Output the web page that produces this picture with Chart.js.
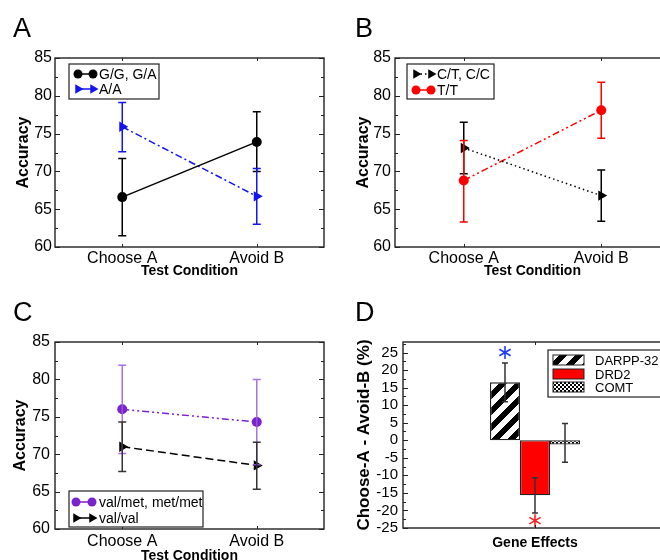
<!DOCTYPE html>
<html>
<head>
<meta charset="utf-8">
<script src="https://cdn.jsdelivr.net/npm/chart.js"></script>
<style>
html, body { margin: 0; padding: 0; background: #fff; }
#fig { position: relative; width: 660px; height: 560px; overflow: hidden; }
#fig canvas { position: absolute; }
.lab { position: absolute; font: 27px 'Liberation Sans', Arial, sans-serif; line-height: 1; color: #000; }
</style>
</head>
<body>
<div id="fig">
  <canvas id="chartA" width="330" height="280" style="left:0;top:0"></canvas>
  <canvas id="chartB" width="346" height="280" style="left:330px;top:0"></canvas>
  <canvas id="chartC" width="330" height="300" style="left:0;top:280px"></canvas>
  <canvas id="chartD" width="340" height="280" style="left:330px;top:280px"></canvas>
  <div class="lab" style="left:13px;top:15px">A</div>
  <div class="lab" style="left:355px;top:15px">B</div>
  <div class="lab" style="left:13px;top:299px">C</div>
  <div class="lab" style="left:355px;top:299px">D</div>
</div>
<script>
// data
const conditions = ['Choose A', 'Avoid B'];

// A: DARPP-32
const ggValues = [66.6, 73.9];
const ggErr = [[61.5, 71.7], [70.0, 77.9]];
const aaValues = [75.9, 66.7];
const aaErr = [[72.6, 79.1], [63.0, 70.4]];

// B: DRD2
const ctValues = [73.1, 66.8];
const ctErr = [[69.7, 76.5], [63.4, 70.2]];
const ttValues = [68.8, 78.1];
const ttErr = [[63.3, 74.1], [74.4, 81.8]];

// C: COMT
const vmValues = [76.0, 74.3];
const vmErr = [[70.1, 81.9], [68.6, 80.0]];
const vvValues = [71.0, 68.5];
const vvErr = [[67.7, 74.3], [65.3, 71.6]];

// D: gene effects (Choose-A minus Avoid-B)
const genes = ['DARPP-32', 'DRD2', 'COMT'];
const geneEffect = [16.5, -15.7, -1.2];
const geneErr = [[11.0, 22.0], [-20.7, -10.7], [-6.3, 4.8]];
const geneStars = [25, -22.9, null];

const FONT = "'Liberation Sans', Arial, Helvetica, sans-serif";

// fill patterns for the bars
function makeTile(size, test) {
  const c = document.createElement('canvas');
  c.width = size; c.height = size;
  const g = c.getContext('2d');
  const img = g.createImageData(size, size);
  for (let j = 0; j < size; j++) {
    for (let i = 0; i < size; i++) {
      const v = test(i, j) ? 0 : 255;
      const k = (j * size + i) * 4;
      img.data[k] = img.data[k + 1] = img.data[k + 2] = v;
      img.data[k + 3] = 255;
    }
  }
  g.putImageData(img, 0, 0);
  return g.createPattern(c, 'repeat');
}
const stripeFill = makeTile(16, (i, j) => ((i + j) % 16) < 8);
const checkFill = makeTile(4, (i, j) => ((Math.floor(i / 2) + Math.floor(j / 2)) % 2) === 0);

function marker(ctx, style, x, y, r, color) {
  ctx.fillStyle = color;
  ctx.beginPath();
  if (style === 'circle') {
    ctx.arc(x, y, r, 0, Math.PI * 2);
  } else {
    ctx.moveTo(x + r, y);
    ctx.lineTo(x - r * 0.5, y - r * 0.87);
    ctx.lineTo(x - r * 0.5, y + r * 0.87);
    ctx.closePath();
  }
  ctx.fill();
}

// error bars + significance stars
const errorBars = {
  id: 'errorBars',
  afterDatasetsDraw(chart, args, o) {
    const ctx = chart.ctx;
    const y = chart.scales.y;
    chart.data.datasets.forEach((ds, i) => {
      if (!ds.err) return;
      const meta = chart.getDatasetMeta(i);
      ctx.save();
      ctx.strokeStyle = ds.errColor || ds.borderColor;
      ctx.lineWidth = o.width;
      ds.err.forEach((e, j) => {
        const px = meta.data[j].x;
        const y1 = y.getPixelForValue(e[0]);
        const y2 = y.getPixelForValue(e[1]);
        const c = o.cap;
        ctx.beginPath();
        ctx.moveTo(px, y1); ctx.lineTo(px, y2);
        ctx.moveTo(px - c, y1); ctx.lineTo(px + c, y1);
        ctx.moveTo(px - c, y2); ctx.lineTo(px + c, y2);
        ctx.stroke();
      });
      if (ds.star != null) {
        const px = meta.data[0].x;
        const py = y.getPixelForValue(ds.star);
        ctx.strokeStyle = ds.starColor;
        ctx.lineWidth = 1.6;
        ctx.beginPath();
        for (const a of [90, 30, -30]) {
          const dx = Math.cos(a * Math.PI / 180) * 6.5;
          const dy = Math.sin(a * Math.PI / 180) * 6.5;
          ctx.moveTo(px - dx, py - dy);
          ctx.lineTo(px + dx, py + dy);
        }
        ctx.stroke();
      }
      ctx.restore();
    });
  }
};

// box frame with inward ticks
const frameTicks = {
  id: 'frameTicks',
  afterDraw(chart, args, o) {
    const ctx = chart.ctx;
    const a = chart.chartArea;
    const y = chart.scales.y, x = chart.scales.x;
    ctx.save();
    ctx.strokeStyle = '#222';
    ctx.lineWidth = 1.4;
    ctx.strokeRect(a.left, a.top, a.right - a.left, a.bottom - a.top);
    ctx.lineWidth = 1;
    ctx.beginPath();
    for (let v = y.min; v <= y.max + 1e-9; v += o.minor) {
      const py = Math.round(y.getPixelForValue(v)) + 0.5;
      const major = Math.abs(v / o.major - Math.round(v / o.major)) < 1e-6;
      const len = major ? 5 : 3;
      ctx.moveTo(a.left, py); ctx.lineTo(a.left + len, py);
      ctx.moveTo(a.right, py); ctx.lineTo(a.right - len, py);
    }
    x.ticks.forEach((t, i) => {
      const px = Math.round(x.getPixelForTick(i)) + 0.5;
      ctx.moveTo(px, a.top); ctx.lineTo(px, a.top + 3);
      ctx.moveTo(px, a.bottom); ctx.lineTo(px, a.bottom - 3);
    });
    ctx.stroke();
    ctx.restore();
  }
};

// framed legend inside the plot
const boxLegend = {
  id: 'boxLegend',
  afterDraw(chart, args, o) {
    if (!o.box) return;
    const ctx = chart.ctx;
    const [bx, by, bw, bh] = o.box;
    ctx.save();
    ctx.fillStyle = '#fff';
    ctx.fillRect(bx, by, bw, bh);
    ctx.strokeStyle = '#222';
    ctx.lineWidth = 1.2;
    ctx.strokeRect(bx, by, bw, bh);
    chart.data.datasets.forEach((ds, i) => {
      const ry = o.rows[i];
      if (o.swatch) {
        ctx.fillStyle = ds.backgroundColor;
        ctx.fillRect(o.m1, ry - 5, o.m2 - o.m1, 10);
        ctx.strokeStyle = '#222';
        ctx.lineWidth = 1;
        ctx.strokeRect(o.m1, ry - 5, o.m2 - o.m1, 10);
      } else {
        ctx.strokeStyle = ds.borderColor;
        ctx.lineWidth = 1.5;
        ctx.setLineDash(ds.legendDash || []);
        ctx.beginPath();
        ctx.moveTo(o.m1, ry); ctx.lineTo(o.m2, ry);
        ctx.stroke();
        ctx.setLineDash([]);
        const r = ds.pointStyle === 'circle' ? 4.5 : 5.5;
        marker(ctx, ds.pointStyle, o.m1, ry, r, ds.borderColor);
        marker(ctx, ds.pointStyle, o.m2, ry, r, ds.borderColor);
      }
      ctx.fillStyle = '#000';
      ctx.font = o.font;
      ctx.textBaseline = 'middle';
      ctx.fillText(ds.label, o.tx, ry + 1);
    });
    ctx.restore();
  }
};

function lineSet(label, data, err, color, dash, style, legendDash, errColor) {
  return {
    label, data, err,
    borderColor: color, backgroundColor: color,
    borderWidth: 1.5, borderDash: dash, legendDash,
    pointStyle: style, pointRotation: style === 'triangle' ? 90 : 0,
    pointRadius: style === 'circle' ? 5 : 6, pointBorderWidth: 0,
    errColor: errColor || color, tension: 0, fill: false
  };
}

function lineChart(id, sets, g) {
  return new Chart(document.getElementById(id), {
    type: 'line',
    data: { labels: conditions, datasets: sets },
    options: {
      responsive: false,
      animation: false,
      events: [],
      layout: { padding: g.pad },
      plugins: {
        legend: { display: false },
        tooltip: { enabled: false },
        errorBars: { cap: 4, width: 1.5 },
        frameTicks: { major: 5, minor: 2.5 },
        boxLegend: g.legend
      },
      scales: {
        x: {
          type: 'category', offset: true,
          grid: { display: false, drawTicks: false }, border: { display: false },
          ticks: { color: '#000', font: { family: FONT, size: 16 }, padding: g.xPad, maxRotation: 0 },
          title: { display: true, text: 'Test Condition', color: '#000',
                   font: { family: FONT, size: 14, weight: 'bold' }, padding: { top: 0, bottom: 0 } },
          afterFit: s => { s.height = g.xH; }
        },
        y: {
          min: 60, max: 85,
          grid: { display: false, drawTicks: false }, border: { display: false },
          ticks: { stepSize: 5, color: '#000', font: { family: FONT, size: 16 }, padding: g.yPad },
          title: { display: true, text: 'Accuracy', color: '#000',
                   font: { family: FONT, size: 16, weight: 'bold' }, padding: { top: g.yTitlePad, bottom: 0 } },
          afterFit: s => { s.width = g.yW; }
        }
      }
    },
    plugins: [errorBars, frameTicks, boxLegend]
  });
}

const legFont = '14px ' + FONT;

lineChart('chartA', [
  lineSet('G/G, G/A', ggValues, ggErr, '#000000', [], 'circle', []),
  lineSet('A/A', aaValues, aaErr, '#1414f0', [7, 3, 2, 3], 'triangle', [])
], {
  pad: { top: 58, right: 5, bottom: 0, left: 0 }, xH: 33, yW: 55, xPad: 2, yPad: 3, yTitlePad: 14,
  legend: { box: [69, 64, 90, 35], rows: [74, 89], m1: 78, m2: 93, tx: 99, font: legFont }
});

lineChart('chartB', [
  lineSet('C/T, C/C', ctValues, ctErr, '#000000', [1.5, 3], 'triangle', [1.5, 3]),
  lineSet('T/T', ttValues, ttErr, '#ff0000', [7, 3, 2, 3, 2, 3], 'circle', [])
], {
  pad: { top: 58, right: 0, bottom: 0, left: 0 }, xH: 33, yW: 65, xPad: 2, yPad: 4, yTitlePad: 24,
  legend: { box: [77, 64, 87, 35], rows: [74, 90], m1: 86, m2: 101, tx: 107, font: legFont }
});

lineChart('chartC', [
  lineSet('val/met, met/met', vmValues, vmErr, '#7a22cc', [7, 3, 2, 3, 2, 3], 'circle', [], 'rgba(150, 90, 225, 0.85)'),
  lineSet('val/val', vvValues, vvErr, '#000000', [8, 4], 'triangle', [], '#333333')
], {
  pad: { top: 62, right: 5, bottom: 15, left: 0 }, xH: 36, yW: 55, xPad: 3, yPad: 5, yTitlePad: 11,
  legend: { box: [69, 211, 134, 36], rows: [222, 238], m1: 76, m2: 92, tx: 99, font: legFont }
});

const geneFills = [stripeFill, '#ff0000', checkFill];
const starColors = ['#1f3cff', '#ff2020', null];

new Chart(document.getElementById('chartD'), {
  type: 'bar',
  data: {
    labels: [''],
    datasets: genes.map((g, i) => ({
      label: g,
      data: [geneEffect[i]],
      err: [geneErr[i]],
      star: geneStars[i],
      starColor: starColors[i],
      errColor: '#333333',
      backgroundColor: geneFills[i],
      borderColor: '#222',
      borderWidth: 1.3,
      borderSkipped: false,
      categoryPercentage: 0.341,
      barPercentage: 1
    }))
  },
  options: {
    responsive: false,
    animation: false,
    events: [],
    layout: { padding: { top: 62, right: 3, bottom: 0, left: 0 } },
    plugins: {
      legend: { display: false },
      tooltip: { enabled: false },
      errorBars: { cap: 3, width: 1.5 },
      frameTicks: { major: 5, minor: 2.5 },
      boxLegend: { box: [218, 70, 140, 47], rows: [80, 94, 107], m1: 223, m2: 254, tx: 265, font: '13px ' + FONT, swatch: true }
    },
    scales: {
      x: {
        offset: true,
        grid: { display: false, drawTicks: false }, border: { display: false },
        ticks: { display: false },
        title: { display: true, text: 'Gene Effects', color: '#000',
                 font: { family: FONT, size: 14, weight: 'bold' }, padding: { top: 0, bottom: 8 } },
        afterFit: s => { s.height = 32; }
      },
      y: {
        min: -25, max: 28,
        grid: { display: false, drawTicks: false }, border: { display: false },
        ticks: { stepSize: 5, includeBounds: false, autoSkip: false, color: '#000', font: { family: FONT, size: 15 }, padding: 5 },
        title: { display: true, text: 'Choose-A - Avoid-B (%)', color: '#000',
                 font: { family: FONT, size: 17, weight: 'bold' }, padding: { top: 24, bottom: 0 } },
        afterFit: s => { s.width = 73; }
      }
    }
  },
  plugins: [errorBars, frameTicks, boxLegend]
});
</script>
</body>
</html>
